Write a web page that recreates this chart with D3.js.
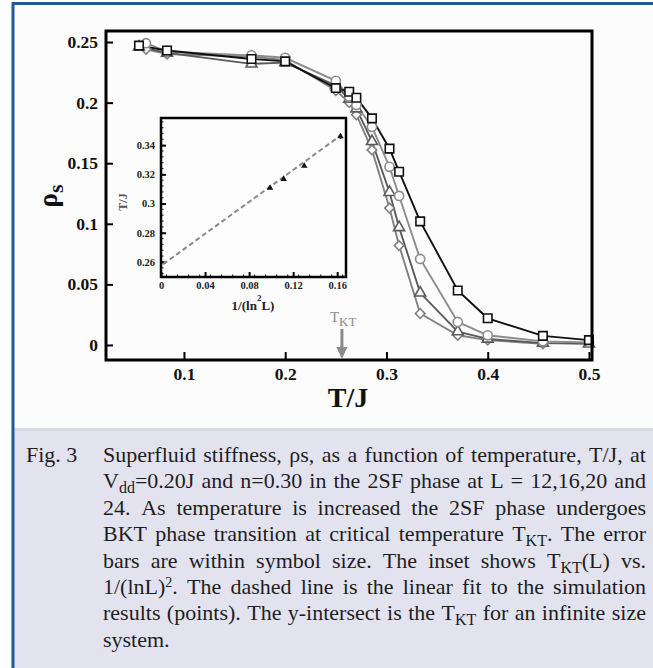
<!DOCTYPE html>
<html><head><meta charset="utf-8">
<script src="https://cdn.jsdelivr.net/npm/d3@7"></script>
<style>
html,body{margin:0;padding:0;background:#fff;}
svg{display:block;}
text{font-family:"Liberation Serif","Times New Roman",serif;}
</style></head><body>
<svg id="c" width="653" height="668"></svg>
<script>
// ---- main chart data (rho_s vs T/J) ----
const tempSquares   = [0.0556, 0.0833, 0.1667, 0.2, 0.25, 0.2632, 0.2703, 0.2857, 0.3030, 0.3125, 0.3333, 0.3704, 0.4, 0.4545, 0.5];
const rhoSquares    = [0.247, 0.243, 0.236, 0.234, 0.212, 0.209, 0.204, 0.187, 0.162, 0.143, 0.102, 0.045, 0.022, 0.0075, 0.004];
const tempCircles   = [0.0625, 0.0833, 0.1667, 0.2, 0.25, 0.2632, 0.2703, 0.2857, 0.3030, 0.3125, 0.3333, 0.3704, 0.4, 0.4545, 0.5];
const rhoCircles    = [0.249, 0.242, 0.239, 0.237, 0.218, 0.205, 0.198, 0.180, 0.147, 0.123, 0.071, 0.019, 0.008, 0.003, 0.002];
const tempTriangles = [0.0556, 0.0833, 0.1667, 0.2, 0.25, 0.2632, 0.2703, 0.2857, 0.3030, 0.3125, 0.3333, 0.3704, 0.4, 0.4545, 0.5];
const rhoTriangles  = [0.246, 0.241, 0.232, 0.233, 0.214, 0.203, 0.195, 0.168, 0.126, 0.097, 0.043, 0.011, 0.005, 0.0015, 0.001];
const tempDiamonds  = [0.0625, 0.0833, 0.1667, 0.2, 0.25, 0.2632, 0.2703, 0.2857, 0.3030, 0.3125, 0.3333, 0.3704, 0.4, 0.4545];
const rhoDiamonds   = [0.244, 0.240, 0.238, 0.235, 0.210, 0.200, 0.190, 0.161, 0.113, 0.082, 0.026, 0.008, 0.004, 0.001];
const xTicks = [0.1, 0.2, 0.3, 0.4, 0.5];
const yTicks = [0, 0.05, 0.1, 0.15, 0.2, 0.25];
const yTickLabels = ["0", "0.05", "0.1", "0.15", "0.2", "0.25"];
const tKT = 0.256;

// ---- inset data (T_KT(L) vs 1/(lnL)^2) ----
const insetX   = [0.0990, 0.1114, 0.1301, 0.1630];
const insetY   = [0.3107, 0.3168, 0.3258, 0.3460];
const insetErr = [0.0008, 0.0008, 0.0008, 0.0018];
const fitX = [0.002, 0.163];
const fitY = [0.2585, 0.3465];
const insetXTicks = [0, 0.04, 0.08, 0.12, 0.16];
const insetXTickLabels = ["0", "0.04", "0.08", "0.12", "0.16"];
const insetYTicks = [0.26, 0.28, 0.30, 0.32, 0.34];
const insetYTickLabels = ["0.26", "0.28", "0.3", "0.32", "0.34"];

// ---- caption ----
const captionLabel = "Fig. 3";
const captionLines = [
  "Superfluid stiffness, ρs, as a function of temperature, T/J, at",
  "V_{dd}=0.20J and n=0.30 in the 2SF phase at L = 12,16,20 and",
  "24. As temperature is increased the 2SF phase undergoes",
  "BKT phase transition at critical temperature T_{KT}. The error",
  "bars are within symbol size. The inset shows T_{KT}(L) vs.",
  "1/(lnL)^{2}. The dashed line is the linear fit to the simulation",
  "results (points). The y-intersect is the T_{KT} for an infinite size",
  "system."
];

const svg = d3.select("#c");

// background, caption panel, blue frame
svg.append("rect").attr("x",0).attr("y",0).attr("width",653).attr("height",668).attr("fill","#ffffff");
svg.append("rect").attr("x",14).attr("y",4).attr("width",639).attr("height",424).attr("fill","#fcfcfc");
svg.append("rect").attr("x",14).attr("y",428).attr("width",639).attr("height",240).attr("fill","#e3e3f0");
svg.append("rect").attr("x",14).attr("y",428).attr("width",639).attr("height",3).attr("fill","#d8d8e3");
svg.append("line").attr("x1",13).attr("x2",653).attr("y1",3.5).attr("y2",3.5).attr("stroke","#1f5b96").attr("stroke-width",3);
svg.append("line").attr("x1",13).attr("x2",13).attr("y1",2).attr("y2",668).attr("stroke","#1f5b96").attr("stroke-width",3);

// ---- main plot ----
const x = d3.scaleLinear().domain([0.023, 0.503]).range([106, 592]);
const y = d3.scaleLinear().domain([-0.0124, 0.2591]).range([360, 31]);

const gx = svg.append("g").attr("transform","translate(0,360)")
  .call(d3.axisBottom(x).tickValues(xTicks).tickFormat(d3.format(".1f")).tickSize(-8).tickPadding(8));
const gy = svg.append("g").attr("transform","translate(106,0)")
  .call(d3.axisLeft(y).tickValues(yTicks).tickFormat((d,i)=>yTickLabels[i]).tickSize(-7).tickPadding(8));
[gx,gy].forEach(g=>{
  g.select(".domain").remove();
  g.selectAll(".tick line").attr("stroke","#000").attr("stroke-width",2);
  g.selectAll(".tick text").attr("font-family","Liberation Serif").attr("font-weight","bold").attr("font-size",17.5).attr("fill","#111");
});

const series = [
  {t: tempDiamonds,  r: rhoDiamonds,  color:"#808080", sym:"diamond"},
  {t: tempTriangles, r: rhoTriangles, color:"#5a5a5a", sym:"triangle"},
  {t: tempCircles,   r: rhoCircles,   color:"#8c8c8c", sym:"circle"},
  {t: tempSquares,   r: rhoSquares,   color:"#111111", sym:"square"}
];
const line = d3.line().x(d=>x(d[0])).y(d=>y(d[1]));
series.forEach(s=>{
  const pts = s.t.map((t,i)=>[t, s.r[i]]);
  svg.append("path").attr("d", line(pts)).attr("fill","none").attr("stroke",s.color).attr("stroke-width",1.9);
});
series.forEach(s=>{
  const pts = s.t.map((t,i)=>[t, s.r[i]]);
  let symType, size, rot = 0;
  if (s.sym==="square") {symType=d3.symbolSquare; size=72;}
  else if (s.sym==="circle") {symType=d3.symbolCircle; size=66;}
  else if (s.sym==="triangle") {symType=d3.symbolTriangle; size=52;}
  else {symType=d3.symbolSquare; size=46; rot=45;}
  const sym = d3.symbol().type(symType).size(size);
  svg.append("g").selectAll("path").data(pts).join("path")
    .attr("d", sym())
    .attr("transform", d=>`translate(${x(d[0])},${y(d[1])}) rotate(${rot})`)
    .attr("fill","#ffffff").attr("stroke", s.color).attr("stroke-width",1.6);
});

// frame
svg.append("rect").attr("x",106).attr("y",31).attr("width",486).attr("height",329)
  .attr("fill","none").attr("stroke","#000").attr("stroke-width",3);

// axis titles
const yl = svg.append("text").attr("transform","translate(57,196) rotate(-90)")
  .attr("font-weight","bold").attr("font-size",27).attr("fill","#111").attr("text-anchor","middle");
yl.append("tspan").text("ρ");
yl.append("tspan").attr("dy",6).attr("font-size",22).text("s");
svg.append("text").attr("x",348).attr("y",407).attr("text-anchor","middle")
  .attr("font-weight","bold").attr("font-size",28).attr("fill","#111").text("T/J");

// T_KT arrow
const tk = svg.append("text").attr("x",x(tKT)-12).attr("y",322).attr("font-size",15).attr("fill","#8a8a8a");
tk.append("tspan").text("T");
tk.append("tspan").attr("dy",4).attr("font-size",13).text("KT");
svg.append("line").attr("x1",x(tKT)).attr("x2",x(tKT)).attr("y1",329).attr("y2",349)
  .attr("stroke","#8a8a8a").attr("stroke-width",3);
svg.append("path").attr("d",`M${x(tKT)-5.5},347 L${x(tKT)+5.5},347 L${x(tKT)},359 Z`).attr("fill","#8a8a8a");

// ---- inset ----
const xi = d3.scaleLinear().domain([0, 0.168]).range([161, 346]);
const yi = d3.scaleLinear().domain([0.2497, 0.3586]).range([277, 118]);
svg.append("rect").attr("x",161).attr("y",118).attr("width",185).attr("height",159).attr("fill","#fdfdfd");

// minor ticks
svg.append("g").selectAll("line").data(d3.range(0.005, 0.166, 0.01)).join("line")
  .attr("x1",d=>xi(d)).attr("x2",d=>xi(d)).attr("y1",277).attr("y2",274.5).attr("stroke","#333").attr("stroke-width",1.2);
svg.append("g").selectAll("line").data(d3.range(0.252, 0.358, 0.004)).join("line")
  .attr("x1",161).attr("x2",163.5).attr("y1",d=>yi(d)).attr("y2",d=>yi(d)).attr("stroke","#333").attr("stroke-width",1.2);

const gxi = svg.append("g").attr("transform","translate(0,277)")
  .call(d3.axisBottom(xi).tickValues(insetXTicks).tickFormat((d,i)=>insetXTickLabels[i]).tickSize(-5).tickPadding(5));
const gyi = svg.append("g").attr("transform","translate(161,0)")
  .call(d3.axisLeft(yi).tickValues(insetYTicks).tickFormat((d,i)=>insetYTickLabels[i]).tickSize(-5).tickPadding(6));
[gxi,gyi].forEach(g=>{
  g.select(".domain").remove();
  g.selectAll(".tick line").attr("stroke","#000").attr("stroke-width",2);
  g.selectAll(".tick text").attr("font-family","Liberation Serif").attr("font-weight","bold").attr("font-size",10.5).attr("fill","#222");
});

// fit line
svg.append("path").attr("d", d3.line().x(d=>xi(d[0])).y(d=>yi(d[1]))(fitX.map((v,i)=>[v, fitY[i]])))
  .attr("fill","none").attr("stroke","#8a8a8a").attr("stroke-width",2).attr("stroke-dasharray","5,3");
// points with error bars
const ipts = insetX.map((v,i)=>[v, insetY[i], insetErr[i]]);
svg.append("g").selectAll("line").data(ipts).join("line")
  .attr("x1",d=>xi(d[0])).attr("x2",d=>xi(d[0])).attr("y1",d=>yi(d[1]-d[2])).attr("y2",d=>yi(d[1]+d[2]))
  .attr("stroke","#111").attr("stroke-width",1.5);
svg.append("g").selectAll("path").data(ipts).join("path")
  .attr("d", d3.symbol().type(d3.symbolTriangle).size(18)())
  .attr("transform", d=>`translate(${xi(d[0])},${yi(d[1])})`).attr("fill","#111");

svg.append("rect").attr("x",161).attr("y",118).attr("width",185).attr("height",159)
  .attr("fill","none").attr("stroke","#000").attr("stroke-width",2.5);

svg.append("text").attr("transform","translate(127,202) rotate(-90)").attr("text-anchor","middle")
  .attr("font-size",12).attr("fill","#555").attr("font-weight","bold").text("T/J");
const xil = svg.append("text").attr("x",253).attr("y",310).attr("text-anchor","middle")
  .attr("font-weight","bold").attr("font-size",13).attr("fill","#222");
xil.append("tspan").text("1/(ln");
xil.append("tspan").attr("dy",-9).attr("font-size",9).text("2");
xil.append("tspan").attr("dy",9).text("L)");

// ---- caption, justified ----
const capLeft = 103, capRight = 646, base0 = 462, lh = 26.4, fs = 22;
const capG = svg.append("g").attr("fill","#1e1e1e").attr("font-size",fs);
capG.append("text").attr("x",26).attr("y",base0).text(captionLabel);

function addWord(g, word, xPos, yPos) {
  const t = g.append("text").attr("x", xPos).attr("y", yPos);
  const parts = word.split(/(_\{[^}]*\}|\^\{[^}]*\})/).filter(p=>p.length);
  let off = 0;
  parts.forEach(p=>{
    let txt = p, target = 0, size = null;
    if (p.startsWith("_{")) { txt = p.slice(2,-1); target = 5; size = 16; }
    else if (p.startsWith("^{")) { txt = p.slice(2,-1); target = -7; size = 14; }
    const ts = t.append("tspan").attr("dy", target - off).text(txt);
    if (size) ts.attr("font-size", size);
    off = target;
  });
  return t;
}
captionLines.forEach((ln, li)=>{
  const yPos = base0 + li*lh;
  const words = ln.split(" ").filter(w=>w.length);
  const nodes = words.map(w=>addWord(capG, w, 0, yPos));
  const widths = nodes.map(n=>n.node().getComputedTextLength());
  const total = d3.sum(widths);
  const last = li === captionLines.length-1;
  const gap = last ? fs*0.25 : (capRight - capLeft - total)/(words.length-1);
  let cx = capLeft;
  nodes.forEach((n,i)=>{ n.attr("x", cx); cx += widths[i] + gap; });
});
</script>
</body></html>
